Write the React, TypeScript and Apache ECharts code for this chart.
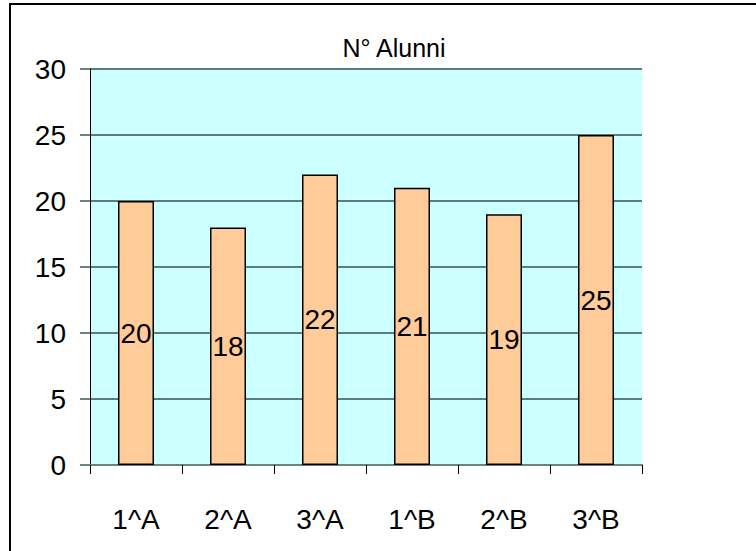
import React, { useEffect, useRef } from "react";
import * as echarts from "echarts";

const title = "N° Alunni";
const categories = ["1^A", "2^A", "3^A", "1^B", "2^B", "3^B"];
const values = [20, 18, 22, 21, 19, 25];
const yMin = 0;
const yMax = 30;
const yStep = 5;

export default function App() {
  const ref = useRef<HTMLDivElement>(null);
  useEffect(() => {
    document.body.style.margin = "0";
    const chart = echarts.init(ref.current!, null, { renderer: "svg" });
    const font = "Arial, 'Liberation Sans', sans-serif";
    chart.setOption({
      animation: false,
      backgroundColor: "#ffffff",
      title: {
        text: title,
        left: 389,
        top: 30,
        textAlign: "center",
        textStyle: { fontFamily: font, fontSize: 25, fontWeight: "normal", color: "#000" },
      },
      graphic: [
        {
          type: "rect",
          shape: { x: 10, y: 4, width: 900, height: 700 },
          style: { fill: "none", stroke: "#000", lineWidth: 2 },
          z: 100,
        },
      ],
      grid: {
        left: 90,
        top: 69,
        width: 552,
        height: 396,
        show: true,
        backgroundColor: "#ccffff",
        borderWidth: 0,
      },
      xAxis: {
        type: "category",
        data: categories,
        axisLine: { show: true, lineStyle: { color: "#6f8080", width: 2 } },
        axisTick: { show: true, alignWithLabel: false, length: 9, lineStyle: { color: "#000", width: 1 } },
        axisLabel: { fontFamily: font, fontSize: 28, color: "#000", margin: 40 },
      },
      yAxis: {
        type: "value",
        min: yMin,
        max: yMax,
        interval: yStep,
        axisLine: { show: true, lineStyle: { color: "#000", width: 1 } },
        axisTick: { show: true, length: 10, lineStyle: { color: "#6f8080", width: 2 } },
        axisLabel: { fontFamily: font, fontSize: 28, color: "#000", margin: 24 },
        splitLine: { show: true, lineStyle: { color: "#5f7a7a", width: 2 } },
      },
      series: [
        {
          type: "bar",
          data: values,
          barWidth: 36,
          itemStyle: { color: "#ffcc99", borderColor: "#000", borderWidth: 1.5 },
          label: {
            show: true,
            position: "inside",
            fontFamily: font,
            fontSize: 28,
            color: "#000",
          },
        },
      ],
    });
    return () => chart.dispose();
  }, []);
  return <div ref={ref} style={{ width: 756, height: 551 }} />;
}
